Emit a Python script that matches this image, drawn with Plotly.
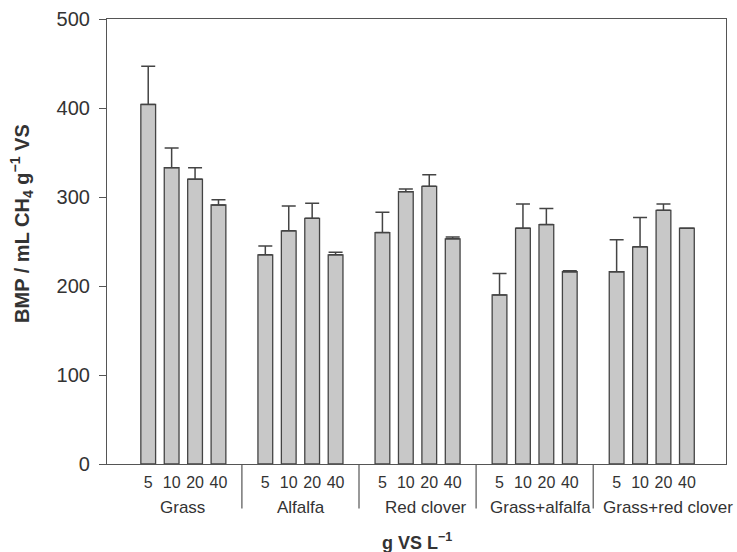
import plotly.graph_objects as go

groups = ["Grass", "Alfalfa", "Red clover", "Grass+alfalfa", "Grass+red clover"]
doses = ["5", "10", "20", "40"]
bmp = [
    [404, 333, 320, 291],   # Grass
    [235, 262, 276, 235],   # Alfalfa
    [260, 306, 312, 253],   # Red clover
    [190, 265, 269, 216],   # Grass+alfalfa
    [216, 244, 285, 265],   # Grass+red clover
]
err = [
    [43, 22, 13, 6],
    [10, 28, 17, 3],
    [23, 3, 13, 2],
    [24, 27, 18, 1],
    [36, 33, 7, 0],
]

FONT = "Liberation Sans, Arial, sans-serif"
TXT = "#333333"
LINE = "#555555"
label_shift = [-1, 1, 8, 6, 16]   # px offsets of group labels, as in the original

step = len(doses) + 1
xs, ys, es, tv, tt = [], [], [], [], []
for g in range(len(groups)):
    for i in range(len(doses)):
        xpos = g * step + i
        xs.append(xpos)
        ys.append(bmp[g][i])
        es.append(err[g][i])
        tv.append(xpos)
        tt.append(doses[i])

fig = go.Figure()
fig.add_trace(go.Bar(
    x=xs, y=ys, width=0.63,
    marker=dict(color="#c8c8c8", line=dict(color="#444444", width=1.3)),
    error_y=dict(type="data", symmetric=False, array=es, arrayminus=[0] * len(es),
                 color="#444444", thickness=1.5, width=7),
    showlegend=False,
))

annotations = []
shapes = []
for g, name in enumerate(groups):
    center = g * step + (len(doses) - 1) / 2
    annotations.append(dict(x=center, y=-0.097, xref="x", yref="paper", text=name,
                            xshift=label_shift[g],
                            showarrow=False, font=dict(family=FONT, size=17, color=TXT),
                            xanchor="center", yanchor="middle"))
    if g > 0:
        sep = g * step - 1
        shapes.append(dict(type="line", xref="x", yref="paper", x0=sep, x1=sep,
                           y0=0, y1=-0.1, line=dict(color=LINE, width=1.2)))

annotations.append(dict(x=0.5, y=-0.175, xref="paper", yref="paper", text="<b>g VS L<sup>\u22121</sup></b>",
                        showarrow=False, font=dict(family=FONT, size=18, color=TXT),
                        xanchor="center", yanchor="middle"))
annotations.append(dict(x=-0.137, y=0.54, xref="paper", yref="paper",
                        text="<b>BMP / mL CH<sub>4</sub> g<sup>\u22121</sup> VS</b>",
                        showarrow=False, textangle=-90, font=dict(family=FONT, size=20, color=TXT),
                        xanchor="center", yanchor="middle"))

fig.update_layout(
    width=737, height=552,
    margin=dict(l=107, r=11, t=19, b=88),
    paper_bgcolor="white", plot_bgcolor="white",
    annotations=annotations, shapes=shapes,
    xaxis=dict(range=[-1.76, 24.67], tickvals=tv, ticktext=tt, ticks="",
               showline=True, linecolor=LINE, linewidth=1.2, mirror=True,
               showgrid=False, zeroline=False, automargin=False, ticklabelstandoff=4,
               tickfont=dict(family=FONT, size=16, color=TXT)),
    yaxis=dict(range=[0, 500], tickvals=[0, 100, 200, 300, 400, 500], ticks="outside",
               ticklen=7, tickcolor=LINE, showline=True, linecolor=LINE, linewidth=1.2,
               mirror=True, showgrid=False, zeroline=False, automargin=False,
               ticklabelstandoff=5,
               tickfont=dict(family=FONT, size=20, color=TXT)),
)

fig.write_html("out.html", config={"displayModeBar": False},
               post_script="document.body.style.margin='0px';")
